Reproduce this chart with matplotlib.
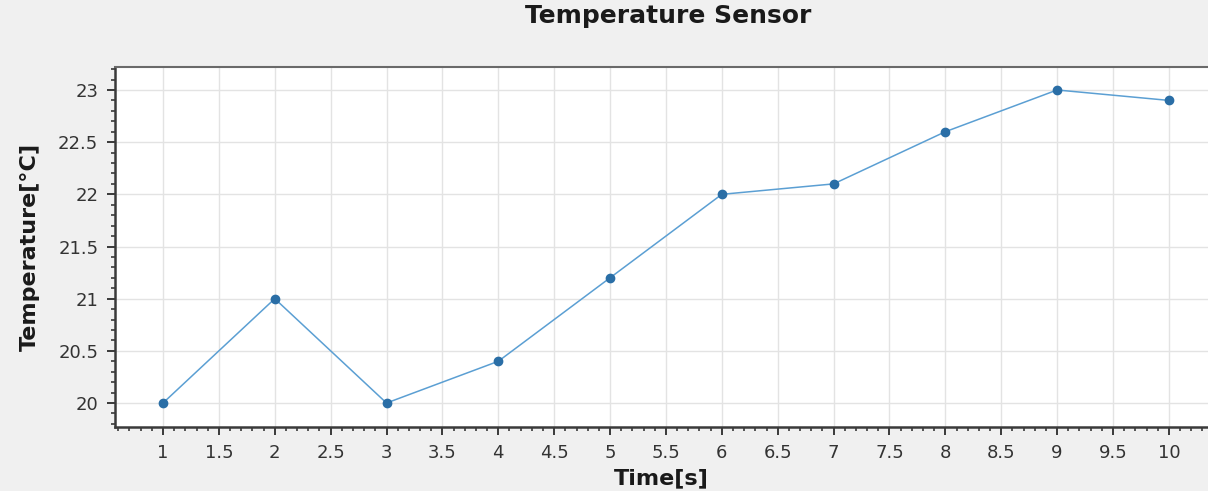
import matplotlib
matplotlib.use('Agg')
import matplotlib.pyplot as plt
from matplotlib.ticker import MultipleLocator

# sensor readings
time_s = [1, 2, 3, 4, 5, 6, 7, 8, 9, 10]
temp_c = [20.0, 21.0, 20.0, 20.4, 21.2, 22.0, 22.1, 22.6, 23.0, 22.9]

fig = plt.figure(figsize=(12.08, 4.91), dpi=100, facecolor='#f0f0f0')
ax = fig.add_axes([0.0952, 0.1303, 0.9048, 0.7332])
ax.set_facecolor('white')

ax.plot(time_s, temp_c, color='#5b9fd3', lw=1.1, zorder=3)
ax.plot(time_s, temp_c, 'o', color='#2a6ea6', ms=6, zorder=4)

ax.set_xlim(0.5706, 10.35)
ax.set_ylim(19.77, 23.22)
ax.xaxis.set_major_locator(MultipleLocator(0.5))
ax.xaxis.set_minor_locator(MultipleLocator(0.1))
ax.yaxis.set_major_locator(MultipleLocator(0.5))
ax.yaxis.set_minor_locator(MultipleLocator(0.1))
ax.xaxis.set_major_formatter(plt.FuncFormatter(lambda v, p: ('%g' % v)))
ax.yaxis.set_major_formatter(plt.FuncFormatter(lambda v, p: ('%g' % v)))

ax.grid(True, which='major', color='#e3e3e3', lw=1.0, zorder=0)
ax.set_axisbelow(True)

for s in ['left', 'bottom']:
    ax.spines[s].set_color('#3a3a3a')
    ax.spines[s].set_linewidth(1.8)
ax.spines['top'].set_color('#6a6a6a')
ax.spines['top'].set_linewidth(1.5)
ax.spines['right'].set_visible(False)

ax.tick_params(which='major', length=6, width=1.4, color='#3a3a3a',
               labelsize=13, labelcolor='#333333', pad=6)
ax.tick_params(which='minor', length=3, width=1.2, color='#3a3a3a')

ax.set_xlabel('Time[s]', fontsize=16, fontweight='bold', color='#1a1a1a', labelpad=5)
ax.set_ylabel('Temperature[°C]', fontsize=16, fontweight='bold',
              color='#1a1a1a', labelpad=13)

fig.text(0.553, 0.967, 'Temperature Sensor', ha='center', va='center',
         fontsize=18, fontweight='bold', color='#1a1a1a')

fig.savefig('out.png', dpi=100, facecolor=fig.get_facecolor())
